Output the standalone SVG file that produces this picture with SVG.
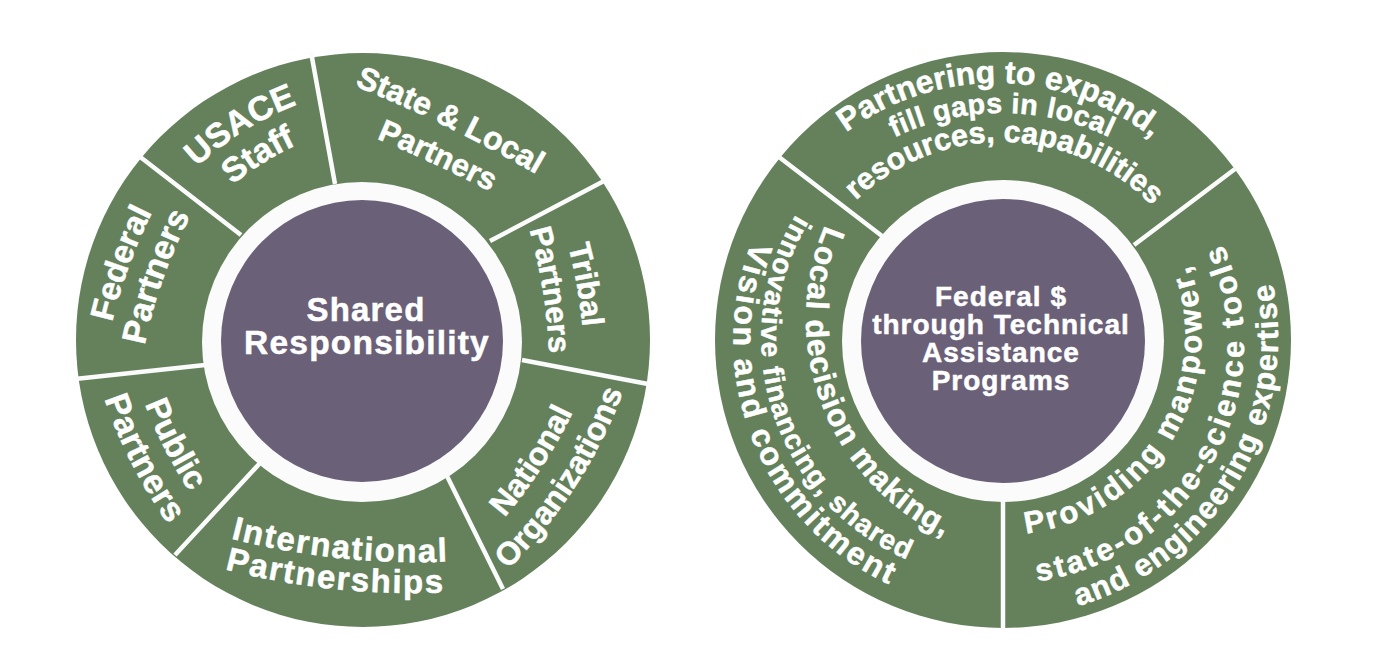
<svg xmlns="http://www.w3.org/2000/svg" width="1377" height="654" viewBox="0 0 1377 654">
<style>
text{font-family:"Liberation Sans",Arial,sans-serif;font-weight:700;fill:#fff;stroke:#fff;stroke-width:.5;text-anchor:middle}
.d{stroke:#fbfbfb;stroke-width:4.5;fill:none}
.g{fill:#64815c}.r{fill:#fbfbfb}.p{fill:#6a6078}
</style>
<defs>
<path id="f210" d="M-210 210A210 210 0 0 1 210 210"/>
<path id="f250" d="M-250 250A250 250 0 0 1 250 250"/>
<path id="f300" d="M-300 300A300 300 0 0 1 300 300"/>
<path id="f500" d="M-500 500A500 500 0 0 1 500 500"/>
<path id="f1500" d="M-1500 1500A1500 1500 0 0 1 1500 1500"/>
<path id="s200" d="M-200 -200A200 200 0 0 0 200 -200"/>
<path id="s240" d="M-240 -240A240 240 0 0 0 240 -240"/>
<path id="s270" d="M-270 -270A270 270 0 0 0 270 -270"/>
<path id="s280" d="M-280 -280A280 280 0 0 0 280 -280"/>
<path id="s500" d="M-500 -500A500 500 0 0 0 500 -500"/>
<path id="s750" d="M-750 -750A750 750 0 0 0 750 -750"/>
</defs>
<rect width="1377" height="654" fill="#fff"/>
<g id="wheel-left">
<circle class="g" cx="363" cy="340" r="287"/>
<circle class="r" cx="362" cy="342" r="160"/>
<circle class="p" cx="362" cy="341" r="141"/>
</g>
<g id="wheel-right">
<circle class="g" cx="1003" cy="340" r="288"/>
<circle class="r" cx="1003" cy="341" r="161"/>
<circle class="p" cx="1003" cy="341" r="142"/>
</g>
<g id="connectors">
<path class="d" d="M311 52L335 184M604 181L490 241M648 384L522 360M503 589L445 472M175 555L261 462M75 379L205 365M139 156L241 235"/>
<path class="d" d="M779 157L882 236M1235 169L1134 245M1003 500V630"/>
</g>
<g id="center-left"><text x="366" y="321" font-size="33" letter-spacing="1.2">Shared</text><text x="367" y="354" font-size="33.5" letter-spacing="1.2">Responsibility</text></g>
<g id="center-right" font-size="28"><text x="1001" y="306" letter-spacing="1">Federal $</text><text x="1001" y="334" letter-spacing="1">through Technical</text><text x="1001" y="362" letter-spacing="1">Assistance</text><text x="1001" y="390" letter-spacing="1">Programs</text></g>
<g id="usace-staff" font-size="34"><text transform="translate(244 131) rotate(-32)"><textPath href="#f300" startOffset="50%">USACE</textPath></text><text transform="translate(263 163) rotate(-32)"><textPath href="#f300" startOffset="50%">Staff</textPath></text></g>
<g id="state-local" font-size="32"><text transform="translate(447 127) rotate(26)"><textPath href="#f1500" startOffset="50%">State &amp; Local</textPath></text><text transform="translate(434 164) rotate(25)" font-size="31"><textPath href="#f1500" startOffset="50%">Partners</textPath></text></g>
<g id="tribal" font-size="31"><text transform="translate(577 286) rotate(80)"><textPath href="#f500" startOffset="50%">Tribal</textPath></text><text transform="translate(543 291) rotate(81)"><textPath href="#f500" startOffset="50%">Partners</textPath></text></g>
<g id="national" font-size="32"><text transform="translate(542 467) rotate(-57)"><textPath href="#s500" startOffset="50%">National</textPath></text><text transform="translate(575 487) rotate(-57)"><textPath href="#s500" startOffset="50%">Organizations</textPath></text></g>
<g id="international" font-size="33" letter-spacing="1.7"><text transform="translate(339 558) rotate(6)"><textPath href="#s750" startOffset="50%">International</textPath></text><text transform="translate(334 589) rotate(6)"><textPath href="#s750" startOffset="50%">Partnerships</textPath></text></g>
<g id="public" font-size="33"><text transform="translate(165 449) rotate(63)"><textPath href="#s500" startOffset="50%">Public</textPath></text><text transform="translate(132 464) rotate(63)" font-size="34" letter-spacing=".5"><textPath href="#s500" startOffset="50%">Partners</textPath></text></g>
<g id="federal" font-size="33"><text transform="translate(129 266) rotate(-70)"><textPath href="#f500" startOffset="50%">Federal</textPath></text><text transform="translate(163 279) rotate(-70.6)" font-size="34"><textPath href="#f500" startOffset="50%">Partners</textPath></text></g>
<g id="partnering"><text transform="translate(1000 83) rotate(1)" font-size="32"><textPath href="#f250" startOffset="50%">Partnering to expand,</textPath></text><text transform="translate(1002 113)" font-size="28.5" letter-spacing=".5"><textPath href="#f250" startOffset="50%">fill gaps in local</textPath></text><text transform="translate(1005 142) rotate(1)" font-size="30.5"><textPath href="#f210" startOffset="50%">resources, capabilities</textPath></text></g>
<g id="local-decision"><text transform="translate(822 405) rotate(69)" font-size="31.5" letter-spacing="1"><textPath href="#s240" startOffset="50%">Local decision making,</textPath></text><text transform="translate(773 413) rotate(72)" font-size="28" letter-spacing="1.2"><textPath href="#s240" startOffset="50%">innovative financing, shared</textPath></text><text transform="translate(753 441) rotate(68)" font-size="32" letter-spacing="2.3"><textPath href="#s270" startOffset="50%">Vision and commitment</textPath></text></g>
<g id="providing"><text transform="translate(1173 438) rotate(-59)" font-size="31" letter-spacing="2.6"><textPath href="#s200" startOffset="50%">Providing manpower,</textPath></text><text transform="translate(1215 458) rotate(-61.5)" font-size="31" letter-spacing="2.8"><textPath href="#s240" startOffset="50%">state-of-the-science tools</textPath></text><text transform="translate(1238 482) rotate(-59)" font-size="31" letter-spacing="1.2"><textPath href="#s280" startOffset="50%">and engineering expertise</textPath></text></g>
</svg>
